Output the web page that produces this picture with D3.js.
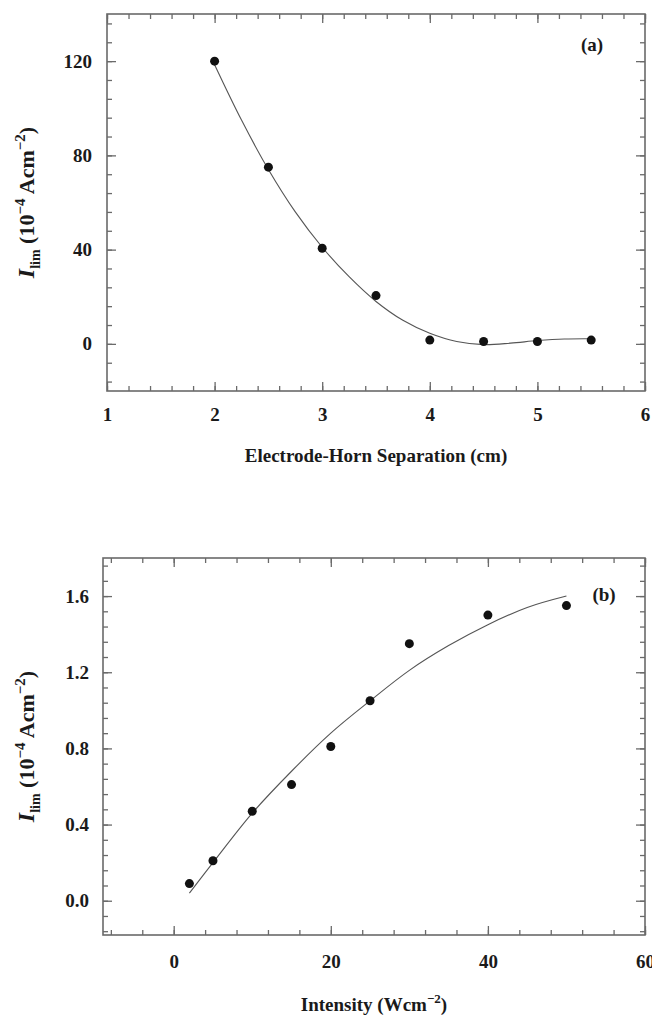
<!DOCTYPE html>
<html lang="en">
  <head>
    <meta charset="UTF-8" />
    <title>Ilim panels</title>
    <script src="https://d3js.org/d3.v7.min.js"></script>
    <style>
      body { margin: 0; background: #fff; }
      svg text { font-family: "Liberation Serif", "Times New Roman", serif; font-weight: bold; fill: #1a1a1a; }
    </style>
  </head>
  <body>
    <svg width="652" height="1016"></svg>
    <script>
      // panel (a) : limiting current vs electrode-horn separation
      let sepCm = [2, 2.5, 3, 3.5, 4, 4.5, 5, 5.5];
      let sepIlim = [120, 75, 40.6, 20.5, 1.6, 1, 1, 1.6];
      let sepFitX = [2, 2.25, 2.5, 2.75, 3, 3.25, 3.5, 3.75, 4, 4.25, 4.5, 4.75, 5, 5.25, 5.5];
      let sepFitY = [118.5, 95, 74, 56, 41, 28.5, 18, 10, 4.5, 1, -0.3, 0.3, 1.4, 2.1, 2.2];
      let aXTicks = [1, 2, 3, 4, 5, 6];
      let aYTicks = [0, 40, 80, 120];

      // panel (b) : limiting current vs intensity
      let intensity = [2, 5, 10, 15, 20, 25, 30, 40, 50];
      let intIlim = [0.09, 0.21, 0.47, 0.61, 0.81, 1.05, 1.35, 1.5, 1.55];
      let intFitX = [2, 5, 10, 15, 20, 25, 30, 35, 40, 45, 50];
      let intFitY = [0.04, 0.2, 0.46, 0.68, 0.88, 1.05, 1.21, 1.34, 1.45, 1.54, 1.6];
      let bXTicks = [0, 20, 40, 60];
      let bYTicks = [0, 0.4, 0.8, 1.2, 1.6];

      let svg = d3.select("svg");

      function yTitle(g, x, y) {
        let t = g.append("text")
          .attr("transform", "translate(" + x + "," + y + ") rotate(-90)")
          .attr("text-anchor", "middle")
          .style("font-size", "22px");
        t.append("tspan").style("font-style", "italic").style("font-size", "24px").text("I");
        t.append("tspan").attr("dy", 6).style("font-size", "14px").text("lim");
        t.append("tspan").attr("dy", -6).text(" (10");
        t.append("tspan").attr("dy", -9).style("font-size", "15px").text("\u22124");
        t.append("tspan").attr("dy", 9).text(" Acm");
        t.append("tspan").attr("dy", -9).style("font-size", "15px").text("\u22122");
        t.append("tspan").attr("dy", 9).text(")");
      }

      function drawPanel(p) {
        let g = svg.append("g");
        let x = d3.scaleLinear().domain(p.xDomain).range([p.left, p.right]);
        let y = d3.scaleLinear().domain(p.yDomain).range([p.bottom, p.top]);

        // inward ticks on all four sides, minor first
        let sides = [
          [d3.axisBottom(x), "translate(0," + p.bottom + ")", p.xMinor, p.xTicks, p.xFmt, p.xPad],
          [d3.axisTop(x), "translate(0," + p.top + ")", p.xMinor, p.xTicks, null, 0],
          [d3.axisLeft(y), "translate(" + p.left + ",0)", p.yMinor, p.yTicks, p.yFmt, p.yPad],
          [d3.axisRight(y), "translate(" + p.right + ",0)", p.yMinor, p.yTicks, null, 0],
        ];
        sides.forEach((s) => {
          let minor = g.append("g").attr("transform", s[1])
            .call(s[0].tickValues(s[2]).tickSize(-5).tickFormat(""));
          minor.select(".domain").remove();
          let major = g.append("g").attr("transform", s[1])
            .call(s[0].tickValues(s[3]).tickSize(-9).tickPadding(s[5])
              .tickFormat(s[4] ? s[4] : ""));
          major.select(".domain").remove();
          major.selectAll("text").style("font-size", "19px").attr("fill", "#1a1a1a");
        });
        g.selectAll(".tick line").attr("stroke", "#6a6a6a").attr("stroke-width", 1.3);

        g.append("rect")
          .attr("x", p.left).attr("y", p.top)
          .attr("width", p.right - p.left).attr("height", p.bottom - p.top)
          .attr("fill", "none").attr("stroke", "#6a6a6a").attr("stroke-width", 1.6);

        // fitted curve
        let fit = p.fitX.map((v, i) => [v, p.fitY[i]]);
        g.append("path")
          .datum(fit)
          .attr("fill", "none")
          .attr("stroke", "#555")
          .attr("stroke-width", 1.1)
          .attr("d", d3.line().x((d) => x(d[0])).y((d) => y(d[1])).curve(d3.curveCatmullRom));

        g.append("g").selectAll("circle")
          .data(p.xs)
          .enter()
          .append("circle")
          .attr("cx", (d) => x(d))
          .attr("cy", (d, i) => y(p.ys[i]))
          .attr("r", 4.5)
          .attr("fill", "#111");

        g.append("text")
          .attr("x", p.tagX).attr("y", p.tagY)
          .attr("text-anchor", "middle")
          .style("font-size", "19px")
          .text(p.tag);

        let xt = g.append("text")
          .attr("x", (p.left + p.right) / 2).attr("y", p.xTitleY)
          .attr("text-anchor", "middle")
          .style("font-size", "19px");
        p.xTitle(xt);

        yTitle(g, p.yTitleX, (p.top + p.bottom) / 2 + p.yTitleShift);
      }

      drawPanel({
        xDomain: [1, 6], yDomain: [-20, 140],
        left: 107, right: 645, top: 14, bottom: 391,
        xTicks: aXTicks, yTicks: aYTicks,
        xMinor: d3.range(1, 6.001, 0.2), yMinor: d3.range(-16, 140, 8),
        xFmt: d3.format("d"), yFmt: d3.format("d"), xPad: 17, yPad: 15,
        xs: sepCm, ys: sepIlim, fitX: sepFitX, fitY: sepFitY,
        tag: "(a)", tagX: 592, tagY: 51,
        xTitleY: 462,
        xTitle: (t) => t.text("Electrode-Horn Separation (cm)"),
        yTitleX: 34, yTitleShift: 0,
      });

      drawPanel({
        xDomain: [-9, 60], yDomain: [-0.18, 1.8],
        left: 103, right: 645, top: 558, bottom: 935,
        xTicks: bXTicks, yTicks: bYTicks,
        xMinor: d3.range(-8, 60.001, 4), yMinor: d3.range(-0.16, 1.8, 0.08),
        xFmt: d3.format("d"), yFmt: d3.format(".1f"), xPad: 20, yPad: 14,
        xs: intensity, ys: intIlim, fitX: intFitX, fitY: intFitY,
        tag: "(b)", tagX: 604, tagY: 601,
        xTitleY: 1011,
        xTitle: (t) => {
          t.append("tspan").text("Intensity (Wcm");
          t.append("tspan").attr("dy", -8).style("font-size", "13px").text("\u22122");
          t.append("tspan").attr("dy", 8).text(")");
        },
        yTitleX: 34, yTitleShift: 0,
      });
    </script>
  </body>
</html>
